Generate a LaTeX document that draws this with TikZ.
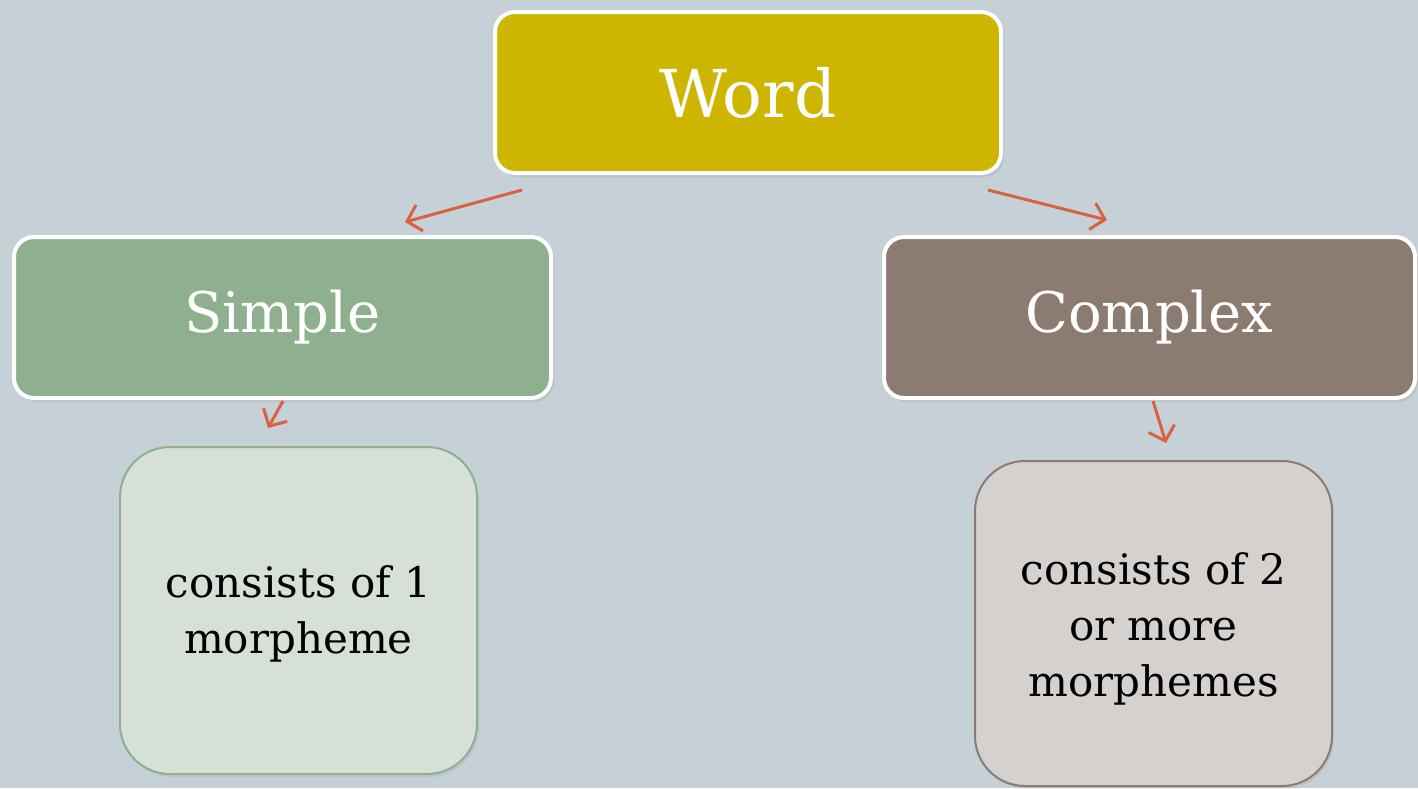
\documentclass[tikz,border=0pt]{standalone}
\usepackage{fontspec}
\setmainfont{DejaVu Serif}
\usetikzlibrary{arrows.meta,shadows}
\definecolor{bgc}{RGB}{197,209,215}
\definecolor{wordc}{RGB}{206,181,0}
\definecolor{simplec}{RGB}{143,176,143}
\definecolor{complexc}{RGB}{140,123,112}
\definecolor{sdescc}{RGB}{214,224,214}
\definecolor{cdescc}{RGB}{213,209,206}
\definecolor{arrc}{RGB}{217,98,64}
\newcommand{\lowertext}[2]{\raisebox{-#1}[\height][\depth]{\begin{tabular}{@{}c@{}}#2\end{tabular}}}
\tikzset{
  headbox/.style={draw=white, line width=4pt, rounded corners=20pt, inner sep=0pt, outer sep=0pt,
    text=white, drop shadow={opacity=0.18, shadow xshift=3pt, shadow yshift=-4pt}},
  descbox/.style={line width=2pt, rounded corners=50pt, inner sep=0pt, outer sep=0pt,
    text=black, align=center, font=\fontsize{42}{56}\selectfont,
    drop shadow={opacity=0.15, shadow xshift=2pt, shadow yshift=-3pt}},
  conn/.style={draw=arrc, line width=3pt, -{Straight Barb[length=13pt,width=27pt,line width=3pt]}}
}
\begin{document}
\begin{tikzpicture}[x=1pt,y=-1pt]
\useasboundingbox (0,0) rectangle (1418,788);
\fill[bgc] (0,0) rectangle (1418,788);
\node[headbox, fill=wordc, minimum width=506pt, minimum height=161pt,
  font=\fontsize{66}{70}\selectfont] (word) at (748,92.5) {Word};
\node[headbox, fill=simplec, minimum width=537pt, minimum height=161pt,
  font=\fontsize{56}{60}\selectfont] (simple) at (282.5,317.5) {Simple};
\node[headbox, fill=complexc, minimum width=531pt, minimum height=161pt,
  font=\fontsize{56}{60}\selectfont] (complex) at (1149.5,317.5) {Complex};
\node[descbox, fill=sdescc, draw=simplec, minimum width=357pt, minimum height=327pt] (sdesc) at (298.5,610.5) {\lowertext{4pt}{consists of 1\\morpheme}};
\node[descbox, fill=cdescc, draw=complexc, minimum width=357pt, minimum height=325pt] (cdesc) at (1153.5,623.5) {\lowertext{6pt}{consists of 2\\or more\\morphemes}};
\draw[conn] ([xshift=27pt,yshift=-17pt]word.south west) -- ([xshift=391pt,yshift=15pt]simple.north west);
\draw[conn] ([xshift=-13pt,yshift=-17pt]word.south east) -- ([xshift=223pt,yshift=17pt]complex.north west);
\draw[conn] ([xshift=0.5pt,yshift=-3pt]simple.south) -- ([xshift=-30.5pt,yshift=19pt]sdesc.north);
\draw[conn] ([xshift=3.5pt,yshift=-3pt]complex.south) -- ([xshift=12.5pt,yshift=18pt]cdesc.north);
\end{tikzpicture}
\end{document}
